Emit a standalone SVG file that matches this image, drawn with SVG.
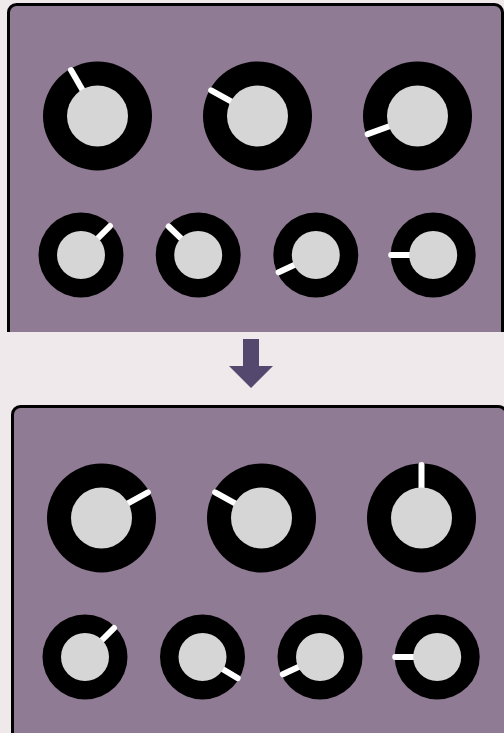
<svg xmlns="http://www.w3.org/2000/svg" width="504" height="733" viewBox="0 0 504 733">
<defs>
<style>
.panel{fill:#8f7b93;stroke:#000;stroke-width:3}
.ob{fill:#000}
.in{fill:#d6d6d6}
.ind{stroke:#fff;stroke-width:6;stroke-linecap:round}
</style>
<clipPath id="clipTop"><rect x="0" y="0" width="504" height="332"/></clipPath>
<clipPath id="clipBot"><rect x="0" y="0" width="504" height="733"/></clipPath>
</defs>
<rect x="0" y="0" width="504" height="733" fill="#efe9eb"/>
<g id="panel-top" clip-path="url(#clipTop)">
<rect class="panel" x="8.5" y="4.5" width="494" height="360" rx="8"/>
</g>
<g id="panel-bottom" clip-path="url(#clipBot)">
<rect class="panel" x="12.5" y="406.5" width="494" height="360" rx="8"/>
</g>
<g id="top-knobs">
<g id="tk1" transform="translate(97.5,116)"><circle class="ob" r="54.5"/><line class="ind" x1="0" y1="0" x2="0" y2="-53" transform="rotate(-30)"/><circle class="in" r="30.5"/></g>
<g id="tk2" transform="translate(257.5,116)"><circle class="ob" r="54.5"/><line class="ind" x1="0" y1="0" x2="0" y2="-53" transform="rotate(-61)"/><circle class="in" r="30.5"/></g>
<g id="tk3" transform="translate(417.5,116)"><circle class="ob" r="54.5"/><line class="ind" x1="0" y1="0" x2="0" y2="-53" transform="rotate(-110)"/><circle class="in" r="30.5"/></g>
<g id="tk4" transform="translate(81,255)"><circle class="ob" r="42.5"/><line class="ind" x1="0" y1="0" x2="0" y2="-41" transform="rotate(45)"/><circle class="in" r="24"/></g>
<g id="tk5" transform="translate(198.2,255)"><circle class="ob" r="42.5"/><line class="ind" x1="0" y1="0" x2="0" y2="-41" transform="rotate(-46)"/><circle class="in" r="24"/></g>
<g id="tk6" transform="translate(315.8,255)"><circle class="ob" r="42.5"/><line class="ind" x1="0" y1="0" x2="0" y2="-41" transform="rotate(-115)"/><circle class="in" r="24"/></g>
<g id="tk7" transform="translate(433.2,255)"><circle class="ob" r="42.5"/><line class="ind" x1="0" y1="0" x2="0" y2="-42" transform="rotate(-90)"/><circle class="in" r="24"/></g>
</g>
<g id="connectors">
<polygon id="arrow" fill="#54486e" points="243,339 259,339 259,366 273,366 251,388 229,366 243,366"/>
</g>
<g id="bottom-knobs">
<g id="bk1" transform="translate(101.5,518)"><circle class="ob" r="54.5"/><line class="ind" x1="0" y1="0" x2="0" y2="-53" transform="rotate(61)"/><circle class="in" r="30.5"/></g>
<g id="bk2" transform="translate(261.5,518)"><circle class="ob" r="54.5"/><line class="ind" x1="0" y1="0" x2="0" y2="-53" transform="rotate(-61)"/><circle class="in" r="30.5"/></g>
<g id="bk3" transform="translate(421.5,518)"><circle class="ob" r="54.5"/><line class="ind" x1="0" y1="0" x2="0" y2="-53"/><circle class="in" r="30.5"/></g>
<g id="bk4" transform="translate(85,657)"><circle class="ob" r="42.5"/><line class="ind" x1="0" y1="0" x2="0" y2="-41" transform="rotate(45)"/><circle class="in" r="24"/></g>
<g id="bk5" transform="translate(202.5,657)"><circle class="ob" r="42.5"/><line class="ind" x1="0" y1="0" x2="0" y2="-41" transform="rotate(121)"/><circle class="in" r="24"/></g>
<g id="bk6" transform="translate(320,657)"><circle class="ob" r="42.5"/><line class="ind" x1="0" y1="0" x2="0" y2="-41" transform="rotate(-115)"/><circle class="in" r="24"/></g>
<g id="bk7" transform="translate(437.2,657)"><circle class="ob" r="42.5"/><line class="ind" x1="0" y1="0" x2="0" y2="-42" transform="rotate(-90)"/><circle class="in" r="24"/></g>
</g>
</svg>
